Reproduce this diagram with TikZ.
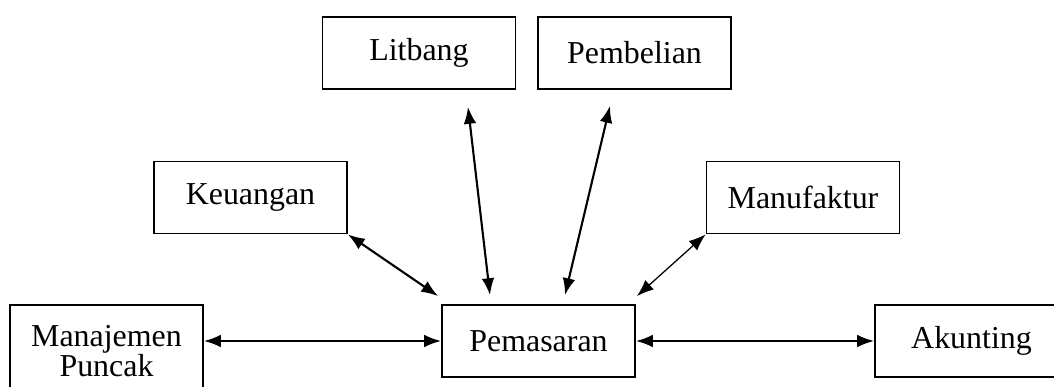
\documentclass[tikz,border=0pt]{standalone}
\usepackage{fontspec}
\setmainfont{Liberation Serif}
\usetikzlibrary{arrows.meta,calc}

\begin{document}
\begin{tikzpicture}[
  x=.25mm, y=.25mm,
  font=\fontsize{22.7}{19.5}\selectfont,
  unit/.style={draw, line width=1.3pt, minimum width=48.25mm,
    minimum height=18mm, align=center, inner sep=2pt},
  link/.style={line width=1.5pt,
    {Latex[length=12pt,width=9pt]}-{Latex[length=12pt,width=9pt]}}
]
\useasboundingbox (0,0) rectangle (1054,386);

% Departments arranged round the marketing box
\node[unit] (pemasaran) at (538.5,45) {Pemasaran};
\node[unit, minimum height=23mm] (manajemen) at (106.5,35) {Manajemen\\Puncak};
\node[unit] (akunting) at (971.5,45) {Akunting};
\node[unit] (keuangan) at (250.5,188.5) {Keuangan};
\node[unit] (manufaktur) at (803,188.5) {Manufaktur};
\node[unit] (litbang) at (419,333) {Litbang};
\node[unit] (pembelian) at (634.5,333) {Pembelian};

% Two-way links, all meeting at Pemasaran
\draw[link] (manajemen.east |- pemasaran.west) -- (pemasaran.west);
\draw[link] (pemasaran.east) -- (akunting.west);
\draw[link] (keuangan.south east) -- ($(pemasaran.north west)+(-3,8)$);
\draw[link] ($(litbang.south)+(49,-17)$) -- ($(pemasaran.north)+(-48.5,9)$);
\draw[link] ($(pembelian.south)+(-24.5,-16)$) -- ($(pemasaran.north)+(26.5,9)$);
\draw[link, line width=.9pt] (manufaktur.south west) -- ($(pemasaran.north east)+(1,8)$);
\end{tikzpicture}
\end{document}
